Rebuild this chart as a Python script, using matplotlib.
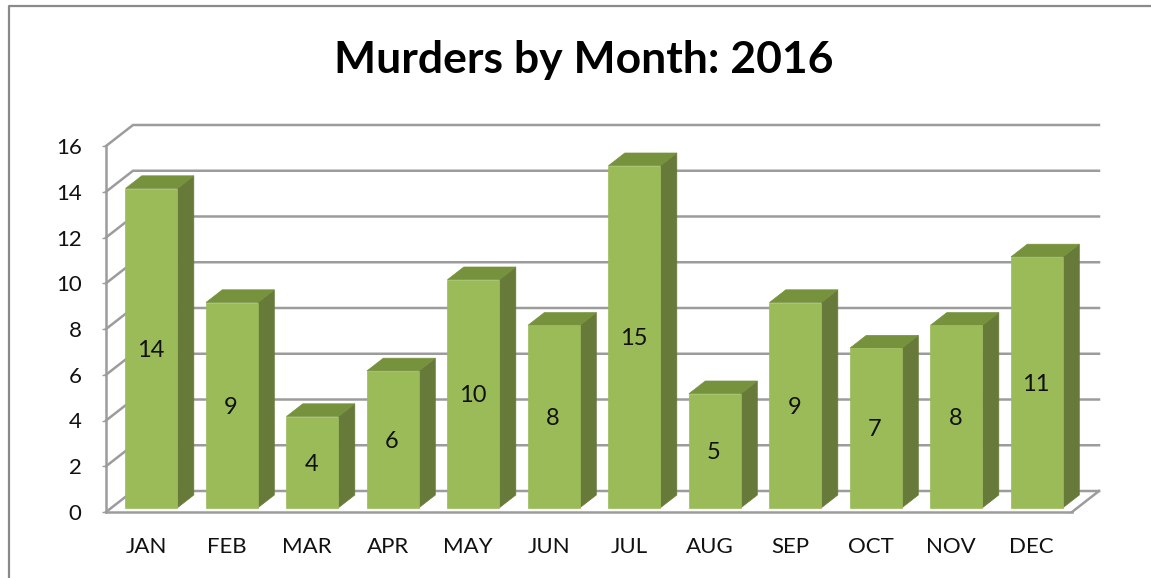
"""Murders by month, drawn as a fake 3D column chart
"""
import matplotlib
matplotlib.use('Agg')
import matplotlib.pyplot as plt
from matplotlib.patches import Polygon
from matplotlib.lines import Line2D

months = ['JAN', 'FEB', 'MAR', 'APR', 'MAY', 'JUN', 'JUL', 'AUG', 'SEP', 'OCT', 'NOV', 'DEC']
murders = [14, 9, 4, 6, 10, 8, 15, 5, 9, 7, 8, 11]
y_ticks = [0, 2, 4, 6, 8, 10, 12, 14, 16]
title = 'Murders by Month: 2016'

W, H = 1151, 578
plt.rcParams['font.family'] = ['Lato', 'DejaVu Sans']

# pixel box of the front plane of the chart
left, right, top, bottom = 106, 1072, 146, 512
# pixels the back wall is shifted from the front plane
depth_x, depth_y = 27, 21

GRID = '#9c9c9c'
FRONT = '#9bbb59'
SIDE = '#677a39'
TOP = '#76923c'
TEXT = '#111111'

fig = plt.figure(figsize=(W / 100, H / 100), dpi=100)
ax = fig.add_axes([left / W, 1 - bottom / H, (right - left) / W, (bottom - top) / H])
ax.set_xlim(-0.5, len(months) - 0.5)
ax.set_ylim(0, 16)
ax.patch.set_visible(False)
ax.spines['top'].set_visible(False)
ax.spines['right'].set_visible(False)
for s in ['left', 'bottom']:
    ax.spines[s].set_color(GRID)
    ax.spines[s].set_linewidth(1.8)

unit_x = (right - left) / len(months)
unit_y = (bottom - top) / 16


def shift(x, y, d):
    # move a data point d of the way towards the back wall
    return x + d * depth_x / unit_x, y + d * depth_y / unit_y


# back wall grid and the side wall diagonals
for v in y_ticks:
    x0, y0 = shift(-0.5, v, 1)
    x1, y1 = shift(len(months) - 0.5, v, 1)
    ax.plot([-0.5, x0, x1], [v, y0, y1], color=GRID, lw=1.8, clip_on=False,
            solid_joinstyle='miter', zorder=1)
# floor right edge
x1, y1 = shift(len(months) - 0.5, 0, 1)
ax.plot([len(months) - 0.5, x1], [0, y1], color=GRID, lw=1.8, clip_on=False, zorder=1)

# columns
bar_w = 52 / unit_x
d0, d1 = 4.3 / depth_y, 17 / depth_y
for i, val in enumerate(murders):
    xa, ya = shift(i - bar_w / 2 - 0.3 / unit_x, 0, d0)
    xb = xa + bar_w
    yt = val * 22.8 / unit_y + ya
    xa2, ya2 = shift(xa, ya, d1 - d0)
    xb2 = xa2 + bar_w
    yt2 = val * 22.8 / unit_y + ya2
    # thin edge in the face colour closes the seams between the faces
    ax.add_patch(Polygon([(xb, ya), (xb2, ya2), (xb2, yt2), (xb, yt)], fc=SIDE, ec=SIDE, lw=0.5,
                         clip_on=False, zorder=3))
    ax.add_patch(Polygon([(xa, yt), (xb, yt), (xb2, yt2), (xa2, yt2)], fc=TOP, ec=TOP, lw=0.5,
                         clip_on=False, zorder=3))
    ax.add_patch(Polygon([(xa, ya), (xb, ya), (xb, yt), (xa, yt)], fc=FRONT, ec=FRONT, lw=0.5,
                         clip_on=False, zorder=4))
    ax.text((xa + xb) / 2 - 1 / unit_x, (ya + yt) / 2 - 2 / unit_y, str(val), ha='center',
            va='center', fontsize=17, color=TEXT, zorder=5)

ax.set_xticks(range(len(months)))
ax.set_xticklabels(months, fontsize=16, color=TEXT)
ax.set_yticks(y_ticks)
ax.set_yticklabels([str(v) for v in y_ticks], fontsize=16, color=TEXT)
ax.tick_params(axis='x', length=0, pad=18)
ax.tick_params(axis='y', length=3, width=1, color=GRID, pad=14.5)

fig.text(584 / W, 1 - 60 / H, title, ha='center', va='center', fontsize=32, fontweight='bold',
         color='#000000')

# chart frame, cut off by the image on the right and bottom
fig.add_artist(Line2D([1.0, 9 / W, 9 / W], [1 - 6 / H, 1 - 6 / H, 0], color='#8a8a8a', lw=1.6,
                      transform=fig.transFigure))

fig.savefig('out.png', dpi=100)
